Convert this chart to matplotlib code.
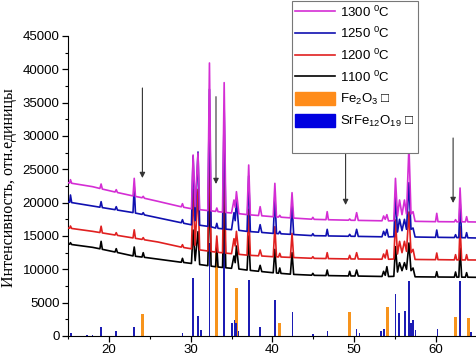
import numpy as np
import matplotlib.pyplot as plt
from matplotlib.lines import Line2D
from matplotlib.ticker import MultipleLocator

plt.rcParams['font.family'] = ['Liberation Sans', 'DejaVu Sans']
plt.rcParams['mathtext.default'] = 'regular'

# 2theta grid shared by the four XRD patterns
two_theta = [15.0, 15.2, 15.3, 15.45,
             18.0,
             18.9, 19.05, 19.2,
             20.75, 20.9, 21.05,
             22.95, 23.1, 23.25,
             24.05, 24.2, 24.35,
             26.0,
             28.85, 29.0, 29.15,
             30.1, 30.3, 30.55, 30.9, 31.1,
             32.1, 32.3, 32.5,
             33.05, 33.2, 33.35,
             33.9, 34.1, 34.3,
             35.0, 35.3, 35.45, 35.6, 35.9,
             36.9, 37.1, 37.3,
             38.3, 38.5, 38.7,
             40.1, 40.3, 40.5,
             40.75, 40.9, 41.05,
             42.2, 42.4, 42.6,
             44.8, 44.95, 45.1,
             46.55, 46.7, 46.85,
             49.3, 49.45, 49.6,
             50.1, 50.3, 50.5,
             53.4, 53.6, 53.8, 54.0, 54.2,
             54.85, 55.05, 55.3, 55.55, 55.85, 56.15, 56.4, 56.7, 56.95, 57.2, 57.45,
             59.95, 60.1, 60.25,
             62.25, 62.4, 62.55,
             62.8, 62.95, 63.15,
             63.6, 63.75, 63.9,
             65.0]

i_1300 = [23000, 22960, 23450, 22910,
          22400,
          22130, 22800, 22040,
          21600, 21950, 21520,
          21010, 23650, 20940,
          20740, 20950, 20660,
          20200,
          19380, 19850, 19310,
          19090, 27150, 19400, 27450, 18950,
          18820, 40950, 18770,
          18690, 19200, 18650,
          18580, 38000, 18530,
          18450, 20400, 19300, 21650, 18350,
          18210, 25650, 18170,
          18070, 19400, 18030,
          17890, 22900, 17860,
          17840, 18100, 17820,
          17720, 21500, 17690,
          17520, 17800, 17500,
          17450, 18650, 17440,
          17370, 17550, 17360,
          17350, 18500, 17340,
          17280, 18000, 17500, 18200, 17270,
          17300, 23650, 18000, 20400, 18200, 20400, 18300, 28500, 18300, 18650, 17200,
          17150, 18400, 17150,
          17130, 17450, 17130,
          17130, 22200, 17130,
          17120, 17900, 17120,
          17100]

i_1250 = [20100, 20060, 21150, 20010,
          19500,
          19320, 20150, 19260,
          18950, 19400, 18890,
          18510, 22400, 18440,
          18240, 18500, 18160,
          17730,
          16990, 17450, 16910,
          16680, 27000, 17300, 27600, 16620,
          16450, 37000, 16380,
          16190, 16900, 16150,
          16080, 34000, 16030,
          15950, 18500, 17300, 20500, 15850,
          15690, 24000, 15660,
          15570, 16700, 15530,
          15390, 21000, 15370,
          15350, 15700, 15330,
          15250, 19800, 15220,
          15060, 15350, 15050,
          15020, 16000, 15010,
          14960, 15250, 14960,
          14950, 16000, 14940,
          14880, 15700, 15100, 16000, 14870,
          14900, 21000, 15600, 17500, 15800, 17500, 16000, 23000, 16000, 16200, 14850,
          14800, 15900, 14800,
          14770, 15200, 14760,
          14760, 20300, 14750,
          14740, 15500, 14730,
          14700]

i_1200 = [16200, 16170, 16500, 16130,
          15700,
          15520, 16470, 15460,
          15150, 15500, 15090,
          14710, 15930, 14650,
          14490, 14760, 14430,
          14100,
          13330, 13700, 13270,
          13080, 22000, 13600, 22000, 12920,
          12750, 31000, 12680,
          12590, 15000, 12550,
          12480, 28500, 12430,
          12350, 14600, 13500, 15700, 12250,
          12130, 19000, 12100,
          12030, 12900, 12000,
          11890, 16400, 11880,
          11860, 12400, 11850,
          11790, 15400, 11770,
          11660, 11900, 11650,
          11620, 12500, 11610,
          11560, 12100, 11560,
          11550, 12500, 11550,
          11520, 12300, 11700, 12900, 11510,
          11550, 17400, 12300, 14200, 12500, 14200, 12700, 18600, 12500, 13000, 11480,
          11450, 12450, 11450,
          11420, 12200, 11420,
          11420, 16450, 11410,
          11410, 12200, 11410,
          11400]

i_1100 = [13800, 13770, 14000, 13720,
          13300,
          13080, 14200, 13000,
          12600, 13100, 12520,
          12010, 13350, 11960,
          11840, 12500, 11800,
          11530,
          11060, 11650, 11030,
          10880, 15900, 11300, 15650, 10720,
          10550, 23000, 10480,
          10390, 13400, 10350,
          10280, 21000, 10230,
          10150, 12000, 11000, 13500, 10050,
          9890, 15000, 9840,
          9710, 10600, 9660,
          9490, 13000, 9450,
          9420, 10200, 9390,
          9280, 12500, 9240,
          9120, 9400, 9100,
          9070, 9900, 9060,
          9010, 9700, 9010,
          9000, 9900, 8990,
          8930, 9700, 9100, 10400, 8920,
          8950, 13400, 9600, 11000, 9800, 11000, 10000, 13950, 9800, 10200, 8880,
          8850, 9650, 8850,
          8830, 9600, 8830,
          8830, 13200, 8830,
          8820, 9500, 8820,
          8800]

# reference sticks
fe2o3_pos = [24.15, 33.15, 35.6, 40.85, 49.45, 54.05, 62.4, 63.95]
fe2o3_int = [3300, 12500, 7200, 2000, 3650, 4300, 2850, 2700]
srfe_pos = [15.35, 17.3, 18.0, 19.05, 20.9, 23.1, 29.0, 30.3, 30.9, 31.25,
            32.3, 34.1, 35.05, 35.35, 35.55, 35.85, 37.1, 38.45, 40.3, 42.45,
            44.95, 46.75, 50.3, 50.65, 53.3, 53.65, 55.05, 55.45, 56.2, 56.7,
            56.95, 57.2, 57.5, 60.2, 62.95, 64.3]
srfe_int = [500, 150, 150, 1400, 800, 1400, 500, 8650, 3000, 900,
            14000, 15500, 1900, 2400, 2000, 700, 8400, 1400, 5400, 3550,
            300, 750, 1100, 500, 700, 1100, 6300, 3400, 3750, 8250,
            2000, 2400, 900, 1100, 8300, 600]

# arrows marking peaks
arrow_x = [24.1, 33.1, 48.95, 62.1]
arrow_top = [37200, 35900, 33000, 29700]
arrow_bottom = [23700, 22800, 19650, 19950]

fig = plt.figure(figsize=(4.76, 3.56), dpi=100)
ax = fig.add_axes([68/476, 20/356, 1 - 68/476, 300/356])

ax.bar(fe2o3_pos, fe2o3_int, width=0.38, color='#f7941d', zorder=2)
ax.bar(srfe_pos, srfe_int, width=0.2, color='#1c1cb4', zorder=2)

ax.plot(two_theta, i_1100, color='black', lw=1.2, zorder=3)
ax.plot(two_theta, i_1200, color='#e02020', lw=1.2, zorder=3)
ax.plot(two_theta, i_1250, color='#1010b0', lw=1.2, zorder=3)
ax.plot(two_theta, i_1300, color='#d42ed4', lw=1.2, zorder=3)

for x, y0, y1 in zip(arrow_x, arrow_top, arrow_bottom):
    ax.annotate('', xy=(x, y1), xytext=(x, y0),
                arrowprops=dict(arrowstyle='-|>', color='#333333', lw=0.8,
                                mutation_scale=8, shrinkA=0, shrinkB=0), zorder=4)

ax.set_xlim(15, 64.9)
ax.set_ylim(0, 45000)
ax.xaxis.set_major_locator(MultipleLocator(10))
ax.xaxis.set_minor_locator(MultipleLocator(5))
ax.yaxis.set_major_locator(MultipleLocator(5000))
ax.yaxis.set_minor_locator(MultipleLocator(2500))
ax.tick_params(which='major', direction='out', length=4, width=0.9, labelsize=9.5, pad=2)
ax.tick_params(which='minor', direction='out', length=2.5, width=0.8)
ax.spines['top'].set_visible(False)
ax.spines['right'].set_visible(False)

fig.text(9/476, 1 - 188/356, 'Интенсивность, отн.единицы', rotation=90,
         ha='center', va='center', fontsize=11.5, family=['Liberation Serif'])

handles = [Line2D([], [], color='#d42ed4', lw=1.2),
           Line2D([], [], color='#1010b0', lw=1.2),
           Line2D([], [], color='#e02020', lw=1.2),
           Line2D([], [], color='black', lw=1.2),
           plt.Rectangle((0, 0), 1, 1, color='#ff8c1a'),
           plt.Rectangle((0, 0), 1, 1, color='#0000e0'),
           Line2D([], [], color='none')]
labels = ['1300 $^{0}$C', '1250 $^{0}$C', '1200 $^{0}$C', '1100 $^{0}$C',
          'Fe$_2$O$_3$ \u25a1', 'SrFe$_{12}$O$_{19}$ \u25a1', '']
leg = ax.legend(handles, labels, loc='lower left',
                bbox_to_anchor=(292/476, 1 - 153/356), bbox_transform=fig.transFigure,
                fontsize=9.5, frameon=True, fancybox=False, framealpha=1,
                edgecolor='#777777', handlelength=3.0, handleheight=1.2,
                handletextpad=0.4, labelspacing=0.5, borderpad=0.25,
                borderaxespad=0)
leg.get_frame().set_linewidth(0.8)
leg.set_zorder(5)

plt.savefig('out.png', dpi=100)
